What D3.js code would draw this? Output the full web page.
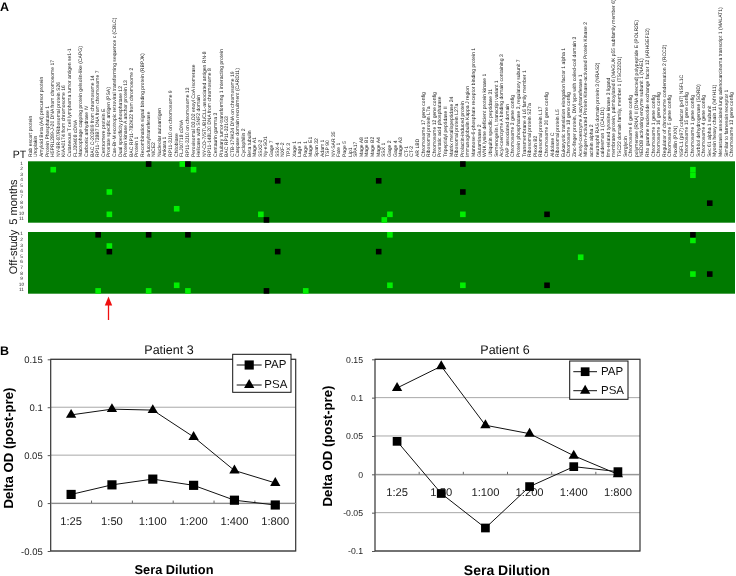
<!DOCTYPE html>
<html><head><meta charset="utf-8">
<style>html,body{margin:0;padding:0;background:#fff}svg{display:block;filter:blur(0.35px)}text{font-family:"Liberation Sans",Arial,sans-serif;text-rendering:geometricPrecision}</style>
<script src="https://cdnjs.cloudflare.com/ajax/libs/d3/7.8.5/d3.min.js"></script>
</head><body><svg id="c" width="736" height="576"></svg>
<script>
const antigens = ["Rab escort protein","Uroplakin","Amyloid Beta (A4) precursor protein","Protein Phosphatase 1","H5PRL289-J-20 DNA from chromosome 17","NY-BR-87/Ribosomal protein S26","KIAA0174 from chromosome 16","Cutaneous T cell lymphoma tumor antigen se1-1","FLJ39408 cDNA","Macrophage capping protein gelsolin-like (CAPG)","Carbonic anhydrase IV","BAC C-2026I9 from chromosome 14","RP11-738B7 DNA from chromosome 7","Centromere protein E","Prostate specific antigen (PSA)","Cas-Br-M ecotropic retroviral transforming sequence c (CBLC)","Dual specificity phosphatase 12","Protein kinase A anchor protein 13","BAC RP11-782K22 from chromosome 2","Protein 1","Recombination signal binding protein (RBPJK)","a-fucosyltransferase","NICE2","Nucleolar autoantigen","Ankara 1","RP11-3J10 on chromosome 9","Chitobiase","FLJ10718 cDNA","RP11-3J10 on chromosome 13","Peroxisomal D3,D2 enoyl CoA isomerase","Helicase with SNF2 domain","NY-CO-7/STUB1/CLL-associated antigen RN-8","RP11-148L20 DNA from chromosome 8","Centaurin gamma 3","Pituitary tumor-transforming 1 interacting protein","BAC RP11-321G3","CTB-179K24 DNA on chromosome 19","Caspase domain recruitment (CARD11)","Cyclophilin 2","Beta tubulin","Mage A1","SSX2-2","Ny-eSO1","Gage 7","SSX-4","NXF-2","TPX 3","Xage 1","Lage 1","Page 1","Mage E1","Span 32","Adam 1","TSP 90","NY-SAR 35","Fate 1","Page 5","Lip1","SPA17","Mage A8","Mage B1","Mage B2","Mage A4","SSX 1","Gage 2","Gage 4","Mage A3","CT-1","CT-2","AR LBD","Chromosome 17 gene config","Ribosomal protein L7a","Chromosome 12 gene config","Prostatic acid phosphatase","Tripeptidyl peptidase II","Matrix metallopeptidase 24","Ribosomal protein L27a","Prolactin-induced protein","Immunoglobulin Kappa J region","Mannose-6-phosphate receptor binding protein 1","Glutaminase 2","WNK lysine deficient protein kinase 1","Ubiquitin specific peptidase 31","Semenogelin I, transcript variant 1","Acyl-coenzyme A binding domain containing 3","PAP associated domain","Chromosome 3 gene config","Protein phosphatase 3, regulatory subunit 7","Transmembrane 4 L6 family member 1","Ribosomal protein S27a","Plexin B2","Ribosomal protein L17","Chromosome 20 gene config","Aldolase C","Ribosomal protein L5","Eukaryotic translation elongation factor 1 alpha 1","Chromosome 18 gene config","Zinc-finger protein, DWl type with coiled-coil domain 3","Acetyl-coenzyme A acyltransferase 1","Mitogen-Activated Protein Kinase-activated Protein Kinase 2","actinin alpha 2","neutrophil RAS domain protein 3 (NRAS2)","caldesmon 1 (CALD1)","fms-related tyrosine kinase 3 ligand","membrane protein, palmitoylated 6 (MAGUK p55 subfamily member 6)","TSC22 domain family, member 1 (TSC22D1)","Serglycin","Chromosome 6 gene config","polymerase (RNA) II (DNA directed) polypeptide E (POLR2E)","NEDD8 activating enzyme subunit 1 (NAE1)","Rho guanine nucleotide exchange factor 12 (ARHGEF12)","Chromosome 1 gene config","Chromosome 16 gene config","Regulator of chromosome condensation 2 (RCC2)","Chromosome 5 gene config","Paxillin (PXN)","NSFL1 (p97) cofactor (p47) NSFL1C","Chromosome 15 gene config","Chromosome 1 gene config","Sorbitol dehydrogenase (SORD)","Chromosome 4 gene config","Sec 61 alpha 1 subunit","Myosin heavy chain 11 (MYH11)","Metastasis associated lung adenocarcinoma transcript 1 (MALAT1)","Similar to farnesoin receptor 1","Chromosome 13 gene config"];
const patients = [1,2,3,4,5,6,7,8,9,10,11];
// [patient index, antigen index]
const month5Up = [[0,27],[1,4],[1,29],[5,14],[8,26],[9,14],[9,41],[10,63],[9,64],[9,77],[1,118],[2,118]];
const month5Down = [[0,21],[0,28],[0,77],[3,44],[3,62],[5,77],[10,42],[7,121],[9,92]];
const offStudyUp = [[2,14],[9,26],[10,12],[10,21],[10,28],[0,64],[9,64],[9,77],[10,49],[1,118],[4,98],[7,118]];
const offStudyDown = [[0,12],[0,21],[0,28],[3,14],[3,44],[3,62],[10,42],[0,118],[7,121],[9,92]];

const dilutions = ["1:25","1:50","1:100","1:200","1:400","1:800"];
const p3PAP = [0.009,0.019,0.025,0.0185,0.003,-0.002];
const p3PSA = [0.092,0.098,0.097,0.069,0.034,0.021];
const p6PAP = [0.043,-0.025,-0.07,-0.016,0.01,0.0035];
const p6PSA = [0.1126,0.141,0.064,0.053,0.0243,0];
const p3Ticks = [-0.05,0,0.05,0.1,0.15];
const p6Ticks = [-0.1,-0.05,0,0.05,0.1,0.15];

const svg = d3.select("#c");
const GREEN="#007a00", BRIGHT="#00f000", DARK="#000";
const txt=(x,y,s,size,o={})=>svg.append("text").attr("x",x).attr("y",y).attr("font-size",size)
  .attr("text-anchor",o.anchor||"start").attr("font-weight",o.bold?"bold":"normal").attr("fill",o.fill||"#111")
  .attr("dominant-baseline","central").attr("transform",o.rot?`rotate(${o.rot} ${x} ${y})`:null).text(s);

// Panel A
const cx = d3.scaleBand().domain(d3.range(antigens.length)).range([28,735]);
function heat(y0,y1,up,down){
  const ry = d3.scaleBand().domain(d3.range(patients.length)).range([y0,y1]);
  svg.append("rect").attr("x",28).attr("y",y0).attr("width",707).attr("height",y1-y0).attr("fill",GREEN);
  [[up,BRIGHT],[down,DARK]].forEach(([list,col])=>{
    svg.append("g").selectAll("rect").data(list).join("rect")
      .attr("x",d=>cx(d[1])).attr("y",d=>ry(d[0])).attr("width",cx.bandwidth()).attr("height",ry.bandwidth()).attr("fill",col);
  });
  svg.append("g").selectAll("text").data(patients).join("text")
    .attr("x",21.5).attr("y",(d,i)=>ry(i)+ry.bandwidth()/2).attr("text-anchor","middle").attr("dominant-baseline","central")
    .attr("font-size",4.8).attr("fill","#222").text(d=>d);
}
heat(161.3,222.7,month5Up,month5Down);
heat(232,293.7,offStudyUp,offStudyDown);
svg.append("g").selectAll("text").data(antigens).join("text")
  .attr("transform",(d,i)=>`translate(${cx(i)+cx.bandwidth()/2},157) rotate(-90)`)
  .attr("dominant-baseline","central").attr("font-size",5.05).attr("fill","#222").text(d=>d);
txt(19.5,155,"PT",10.5,{anchor:"middle"});
txt(14,202,"5 months",11,{anchor:"middle",rot:-90});
txt(14,252,"Off-study",11,{anchor:"middle",rot:-90});
txt(0,7,"A",12.5,{bold:true,fill:"#000"});
txt(0,351,"B",12.5,{bold:true,fill:"#000"});
// arrow
svg.append("line").attr("x1",108.5).attr("x2",108.5).attr("y1",320).attr("y2",304).attr("stroke","#f01010").attr("stroke-width",1.3);
svg.append("path").attr("d",d3.line()([[108.5,296.5],[112.2,305.5],[104.8,305.5]])+"Z").attr("fill","#f01010");

// Panel B
const sqPath=d3.symbol().type(d3.symbolSquare), triPath=d3.symbol().type(d3.symbolTriangle);
function chart(c){
  const x=d3.scaleBand().domain(dilutions).range([c.x0,c.x1]);
  const y=d3.scaleLinear().domain(c.domain).range([551,359.3]);
  const g=svg.append("g");
  g.append("g").selectAll("line").data(c.ticks).join("line")
    .attr("x1",c.x0).attr("x2",c.x1).attr("y1",d=>y(d)).attr("y2",d=>y(d)).attr("stroke","#a8a8a8").attr("stroke-width",1);
  g.append("rect").attr("x",c.x0).attr("y",359.3).attr("width",c.x1-c.x0).attr("height",191.7).attr("fill","none").attr("stroke","#333").attr("stroke-width",1.2);
  const ya=d3.axisLeft(y).tickValues(c.ticks).tickFormat(d=>d).tickSize(3).tickPadding(c.pad);
  const ag=g.append("g").attr("transform",`translate(${c.x0},0)`).call(ya);
  ag.select(".domain").remove();
  ag.selectAll("text").attr("font-size",c.tickFont).attr("font-family",'"Liberation Sans",Arial,sans-serif').attr("fill","#222");
  ag.selectAll("line").attr("stroke","#555");
  const xa=d3.axisBottom(x).tickSize(0).tickPadding(14);
  const xg=g.append("g").attr("transform",`translate(0,${y(0)})`).call(xa);
  xg.select(".domain").attr("stroke","#888");
  xg.selectAll("text").attr("font-size",11.2).attr("font-family",'"Liberation Sans",Arial,sans-serif').attr("fill","#222");
  g.append("g").selectAll("line").data(dilutions.slice(1)).join("line")
    .attr("x1",d=>x(d)).attr("x2",d=>x(d)).attr("y1",y(0)-2.5).attr("y2",y(0)).attr("stroke","#666");
  const line=d3.line().x((d,i)=>x(dilutions[i])+x.bandwidth()/2).y(d=>y(d));
  [[c.psa,triPath.size(46)()],[c.pap,sqPath.size(c.sq)()]].forEach(([vals,sym])=>{
    g.append("path").attr("d",line(vals)).attr("fill","none").attr("stroke","#111").attr("stroke-width",1);
    g.append("g").selectAll("path").data(vals).join("path").attr("d",sym)
      .attr("transform",(d,i)=>`translate(${x(dilutions[i])+x.bandwidth()/2},${y(d)})`).attr("fill","#000");
  });
  // legend
  const l=c.legend;
  g.append("rect").attr("x",l.x).attr("y",l.y).attr("width",l.w).attr("height",l.h).attr("fill","#fff").attr("stroke","#111").attr("stroke-width",1);
  [["PAP",sqPath.size(c.sq)(),l.y1],["PSA",triPath.size(46)(),l.y2]].forEach(([name,sym,ly])=>{
    g.append("line").attr("x1",l.lx0).attr("x2",l.lx1).attr("y1",ly).attr("y2",ly).attr("stroke","#111");
    g.append("path").attr("d",sym).attr("transform",`translate(${(l.lx0+l.lx1)/2},${ly})`).attr("fill","#000");
    txt(l.tx,ly,name,11.5);
  });
  txt(c.titleX,350,c.title,12.5,{anchor:"middle"});
  txt(c.xLabelX,569.5,"Sera Dilution",c.xFont,{anchor:"middle",bold:true,fill:"#000"});
  txt(c.yLabelX,c.yLabelY,"Delta OD (post-pre)",13.2,{anchor:"middle",bold:true,rot:-90,fill:"#000"});
}
chart({x0:50.7,x1:295.7,domain:[-0.05,0.15],ticks:p3Ticks,pad:5,tickFont:9.5,pap:p3PAP,psa:p3PSA,sq:84,
  legend:{x:232.7,y:354.3,w:58.3,h:38,y1:365,y2:385,lx0:236.7,lx1:261.7,tx:264.3},
  title:"Patient 3",titleX:169,xLabelX:174,xFont:12.8,yLabelX:8,yLabelY:448});
chart({x0:375,x1:640,domain:[-0.1,0.15],ticks:p6Ticks,pad:9,tickFont:8.7,pap:p6PAP,psa:p6PSA,sq:76,
  legend:{x:569.7,y:361,w:58.3,h:38.3,y1:371.7,y2:390.7,lx0:573.3,lx1:597,tx:601},
  title:"Patient 6",titleX:505,xLabelX:507,xFont:14,yLabelX:327,yLabelY:446});
</script></body></html>
